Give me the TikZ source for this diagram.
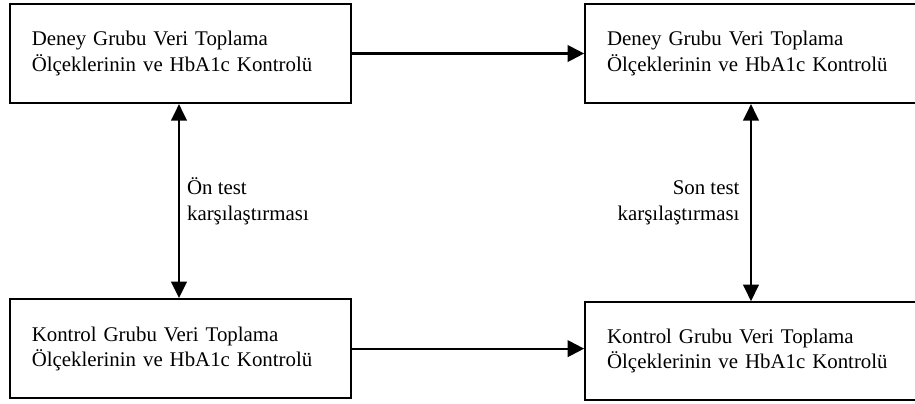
\documentclass[tikz,border=0pt]{standalone}
\usepackage{fontspec}
\setmainfont{Liberation Serif}
\usetikzlibrary{arrows.meta, positioning}

\begin{document}
\begin{tikzpicture}[
    x=0.575pt, y=-0.575pt,
    stage/.style={rectangle, draw, line width=1.2pt, minimum width=196pt, minimum height=57pt,
      text width=171pt, inner xsep=12.6pt, align=left, font=\fontsize{12}{14.5}\selectfont},
    pairarrow/.style={{Triangle[length=9.5pt, width=9pt]}-{Triangle[length=9.5pt, width=9pt]}, line width=1.3pt},
    flowarrow/.style={-{Triangle[length=9.5pt, width=9.5pt]}, line width=1.3pt},
    note/.style={font=\fontsize{12}{14.8}\selectfont, inner xsep=4pt}
  ]
    \useasboundingbox (0,0) rectangle (915,403);
    \clip (0,0) rectangle (915,403);

    \node[stage] (tl) at (180.5,53.5) {Deney Grubu Veri Toplama\\Ölçeklerinin ve HbA1c Kontrolü};
    \node[stage, right=133.4pt of tl] (tr) {Deney Grubu Veri Toplama\\Ölçeklerinin ve HbA1c Kontrolü};
    \node[stage, below=111.5pt of tl] (bl) {Kontrol Grubu Veri Toplama\\Ölçeklerinin ve HbA1c Kontrolü};
    \node[stage, minimum height=56.4pt, below=113.3pt of tr] (br) {Kontrol Grubu Veri Toplama\\Ölçeklerinin ve HbA1c Kontrolü};

    % test comparisons
    \coordinate (pre) at (179,0);
    \coordinate (post) at (751,0);
    \draw[pairarrow] (tl.south -| pre) -- node[right, note, align=left]{Ön test\\karşılaştırması} (bl.north -| pre);
    \draw[pairarrow] (tr.south -| post) -- node[left, note, inner xsep=6pt, align=right]{Son test\\karşılaştırması} (br.north -| post);

    \draw[flowarrow] (tl.east) -- (tl.east -| tr.west);
    \draw[flowarrow] (bl.east) -- (bl.east -| br.west);
  \end{tikzpicture}
\end{document}
